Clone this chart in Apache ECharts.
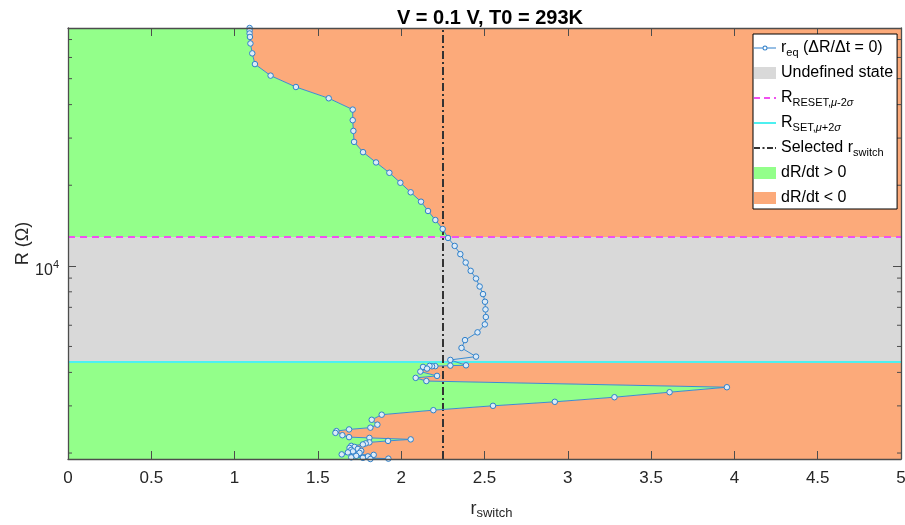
<!DOCTYPE html>
<html><head><meta charset="utf-8">
<script src="https://cdn.jsdelivr.net/npm/echarts@6/dist/echarts.min.js"></script>
<style>html,body{margin:0;padding:0;background:#fff}#c{width:905px;height:525px}</style>
</head><body><div id="c"></div>
<script>
// ---- data ----
const rSwitch = [1.090,1.090,1.090,1.092,1.095,1.106,1.122,1.216,1.368,1.565,
  1.709,1.709,1.713,1.717,1.771,1.849,1.929,1.995,2.057,2.119,
  2.161,2.205,2.249,2.281,2.321,2.355,2.387,2.417,2.449,2.471,
  2.491,2.503,2.506,2.508,2.502,2.458,2.383,2.362,2.449,2.295,
  2.389,2.295,2.205,2.185,2.170,2.131,2.155,2.115,2.215,2.087,
  2.151,3.955,3.611,3.280,2.922,2.551,2.193,1.883,1.823,1.857,
  1.815,1.687,1.611,1.605,1.647,1.687,1.809,2.057,1.921,1.809,
  1.787,1.770,1.700,1.720,1.690,1.740,1.700,1.760,1.710,1.680,
  1.750,1.643,1.835,1.730,1.800,1.700,1.770,1.923,1.815];
const resistance = [77300,75680,73750,71570,67680,62150,56670,51320,46540,42240,
  38330,34990,31910,29030,26580,24330,22260,20430,18820,17360,
  16030,14830,13730,12710,11870,11060,10290,9580,8968,8374,
  7843,7344,6876,6440,6044,5645,5280,4938,4582,4454,
  4252,4241,4223,4217,4231,4195,4134,4029,3883,3817,
  3714,3522,3374,3232,3107,3002,2891,2781,2662,2553,
  2488,2450,2415,2378,2331,2293,2278,2249,2220,2192,
  2173,2154,2127,2108,2090,2072,2055,2037,2029,2011,
  2003,1977,1969,1952,1943,1927,1919,1906,1900];
const rResetLevel = 12820;   // R_RESET, mu-2sigma
const rSetLevel = 4378;      // R_SET, mu+2sigma
const selectedRSwitch = 2.25;
const xRange = [0, 5];
const yRange = [1900, 77300];
const xTickStep = 0.5;
const yMajorTickLabel = 10000;
const yMinorTicks = [2000,3000,4000,5000,6000,7000,8000,9000,20000,30000,40000,50000,60000,70000];

// ---- build ----
const curve = rSwitch.map((r, i) => [r, resistance[i]]);
const FONT = 'Liberation Sans, Arial, Helvetica, sans-serif';
const AX = '#4d4d4d';
const GREEN = '#93FF8A', ORANGE = '#FCAA7A', GRAY = '#D9D9D9';
const MAGENTA = '#F050F0', CYAN = '#4DF0F0', DARK = '#333333', BLUE = '#2f7fc9';

// legend icons (22 x 12 box); tiny corner specks keep the bounding box full size
const BOX = 'M0,0 L0.01,0 L0.01,0.01 Z M21.99,11.99 L22,11.99 L22,12 Z ';
const ICON_SOLID = 'path://' + BOX + 'M0,5 L22,5 L22,7 L0,7 Z';
const ICON_DASH = 'path://' + BOX + 'M0,5 L6,5 L6,7 L0,7 Z M10,5 L16,5 L16,7 L10,7 Z M20,5 L22,5 L22,7 L20,7 Z';
const ICON_DASHDOT = 'path://' + BOX + 'M0,5 L6,5 L6,7 L0,7 Z M8.5,5 L10.5,5 L10.5,7 L8.5,7 Z M13,5 L19,5 L19,7 L13,7 Z M21,5 L22,5 L22,7 L21,7 Z';
const ICON_REQ = 'path://' + BOX + 'M0,5.5 L8.5,5.5 L8.5,6.5 L0,6.5 Z M13.5,5.5 L22,5.5 L22,6.5 L13.5,6.5 Z ' +
  'M13.5,6 A2.5,2.5 0 1 1 8.5,6 A2.5,2.5 0 1 1 13.5,6 Z M12.5,6 A1.5,1.5 0 1 0 9.5,6 A1.5,1.5 0 1 0 12.5,6 Z';

function fillSeries(name, color, edgeX) {
  return {
    type: 'custom', name, z: 1, silent: true, clip: true,
    itemStyle: { color },
    data: [curve[0]],
    renderItem(params, api) {
      const pts = curve.map(p => api.coord(p));
      pts.unshift(api.coord([edgeX, resistance[0]]));
      pts.push(api.coord([edgeX, resistance[resistance.length - 1]]));
      return { type: 'polygon', shape: { points: pts }, style: { fill: color } };
    }
  };
}

const labelMap = {
  req: 'r{sub|eq} (\u0394R/\u0394t = 0)',
  und: 'Undefined state',
  reset: 'R{sub|RESET,}{subi|\u03bc}{sub|-2}{subi|\u03c3}',
  set: 'R{sub|SET,}{subi|\u03bc}{sub|+2}{subi|\u03c3}',
  sel: 'Selected r{sub|switch}',
  pos: 'dR/dt > 0',
  neg: 'dR/dt < 0'
};

const axisCommon = {
  z: 10,
  axisLine: { show: true, onZero: false, lineStyle: { color: AX, width: 1.3 } },
  axisTick: { show: true, inside: true, length: 8, lineStyle: { color: AX, width: 1 } },
  splitLine: { show: false },
  minorTick: { show: false }
};

const option = {
  animation: false,
  backgroundColor: '#ffffff',
  textStyle: { fontFamily: FONT },
  title: {
    text: 'V = 0.1 V, T0 = 293K', left: 485, top: 3, textAlign: 'center',
    textStyle: { fontFamily: FONT, fontSize: 20, fontWeight: 'bold', color: '#000' }
  },
  grid: { left: 68, right: 4, top: 28, bottom: 66, containLabel: false, outerBoundsMode: 'none' },
  xAxis: [
    Object.assign({}, axisCommon, {
      type: 'value', min: xRange[0], max: xRange[1], interval: xTickStep, position: 'bottom',
      axisLabel: { fontFamily: FONT, fontSize: 17, color: '#262626', margin: 11 },
      name: 'r{sub|switch}', nameLocation: 'middle', nameGap: 39,
      nameTextStyle: { fontFamily: FONT, fontSize: 18, color: '#262626', lineHeight: 22, padding: [0, 0, 0, 14],
        rich: { sub: { fontFamily: FONT, fontSize: 13, color: '#262626', lineHeight: 12, verticalAlign: 'bottom' } } }
    }),
    Object.assign({}, axisCommon, {
      type: 'value', min: xRange[0], max: xRange[1], interval: xTickStep, position: 'top',
      axisLabel: { show: false }
    })
  ],
  yAxis: [
    Object.assign({}, axisCommon, {
      type: 'log', logBase: 10, min: yRange[0], max: yRange[1], position: 'left',
      axisLabel: {
        fontFamily: FONT, color: '#262626', margin: 9, padding: [9, 0, 0, 0],
        formatter: v => Math.abs(v - yMajorTickLabel) < 1e-6 ? '{b|10}{sup|4}' : '',
        rich: {
          b: { fontFamily: FONT, fontSize: 16, color: '#262626', lineHeight: 22 },
          sup: { fontFamily: FONT, fontSize: 11, color: '#262626', lineHeight: 10, verticalAlign: 'top' }
        }
      },
      name: 'R (\u03a9)', nameLocation: 'middle', nameGap: 36, nameRotate: 90, nameMoveOverlap: false,
      nameTextStyle: { fontFamily: FONT, fontSize: 18, color: '#262626' }
    }),
    Object.assign({}, axisCommon, {
      type: 'log', logBase: 10, min: yRange[0], max: yRange[1], position: 'right',
      axisLabel: { show: false }
    })
  ],
  legend: {
    orient: 'vertical', left: 753, top: 34, z: 20,
    backgroundColor: '#ffffff', borderColor: '#000', borderWidth: 1,
    padding: [4, 4, 1, 1], itemGap: 5, itemWidth: 22, itemHeight: 12,
    selectedMode: false,
    itemStyle: { borderWidth: 0 },
    data: [
      { name: 'req', icon: ICON_REQ, itemStyle: { color: BLUE, borderWidth: 0 } },
      { name: 'und', icon: 'rect' },
      { name: 'reset', icon: ICON_DASH },
      { name: 'set', icon: ICON_SOLID },
      { name: 'sel', icon: ICON_DASHDOT },
      { name: 'pos', icon: 'rect' },
      { name: 'neg', icon: 'rect' }
    ],
    formatter: n => labelMap[n],
    textStyle: {
      fontFamily: FONT, fontSize: 16, color: '#000', lineHeight: 20,
      rich: {
        sub: { fontFamily: FONT, fontSize: 11, color: '#000', lineHeight: 11, verticalAlign: 'bottom' },
        subi: { fontFamily: FONT, fontSize: 11, fontStyle: 'italic', color: '#000', lineHeight: 11, verticalAlign: 'bottom' }
      }
    }
  },
  series: [
    fillSeries('pos', GREEN, xRange[0]),
    fillSeries('neg', ORANGE, xRange[1]),
    {
      type: 'custom', name: 'und', z: 2, silent: true, clip: true,
      itemStyle: { color: GRAY },
      data: [[xRange[0], rSetLevel, xRange[1], rResetLevel]],
      renderItem(params, api) {
        const a = api.coord([api.value(0), api.value(1)]);
        const b = api.coord([api.value(2), api.value(3)]);
        return { type: 'rect', shape: { x: a[0], y: b[1], width: b[0] - a[0], height: a[1] - b[1] }, style: { fill: GRAY } };
      }
    },
    {
      type: 'custom', name: 'minorTicks', z: 11, silent: true, clip: false,
      data: yMinorTicks.map(v => [xRange[0], v]),
      renderItem(params, api) {
        const l = api.coord([xRange[0], api.value(1)]);
        const r = api.coord([xRange[1], api.value(1)]);
        const st = { stroke: AX, lineWidth: 1 };
        return { type: 'group', children: [
          { type: 'line', shape: { x1: l[0], y1: l[1], x2: l[0] + 4, y2: l[1] }, style: st },
          { type: 'line', shape: { x1: r[0] - 4, y1: r[1], x2: r[0], y2: r[1] }, style: st }
        ] };
      }
    },
    {
      type: 'line', name: 'reset', data: [], z: 4, symbol: 'none',
      lineStyle: { color: MAGENTA, width: 2, type: [7, 5] },
      itemStyle: { color: MAGENTA },
      markLine: { silent: true, symbol: 'none', label: { show: false },
        lineStyle: { color: MAGENTA, width: 2, type: [7, 5] }, data: [{ yAxis: rResetLevel }] }
    },
    {
      type: 'line', name: 'set', data: [], z: 4, symbol: 'none',
      lineStyle: { color: CYAN, width: 2, type: 'solid' },
      itemStyle: { color: CYAN },
      markLine: { silent: true, symbol: 'none', label: { show: false },
        lineStyle: { color: CYAN, width: 2, type: 'solid' }, data: [{ yAxis: rSetLevel }] }
    },
    {
      type: 'line', name: 'sel', data: [], z: 4, symbol: 'none',
      lineStyle: { color: DARK, width: 2, type: [8, 3, 2, 3] },
      itemStyle: { color: DARK },
      markLine: { silent: true, symbol: 'none', label: { show: false },
        lineStyle: { color: DARK, width: 2, type: [8, 3, 2, 3] }, data: [{ xAxis: selectedRSwitch }] }
    },
    {
      type: 'line', name: 'req', data: curve, z: 6, clip: true,
      symbol: 'circle', symbolSize: 5.5, showSymbol: true, showAllSymbol: true,
      lineStyle: { color: '#3a8cd2', width: 1 },
      itemStyle: { color: '#dcebf8', borderColor: BLUE, borderWidth: 1 },
      emphasis: { disabled: true }
    }
  ]
};
const chart = echarts.init(document.getElementById('c'), null, { renderer: 'canvas' });
chart.setOption(option);
</script>
</body></html>
